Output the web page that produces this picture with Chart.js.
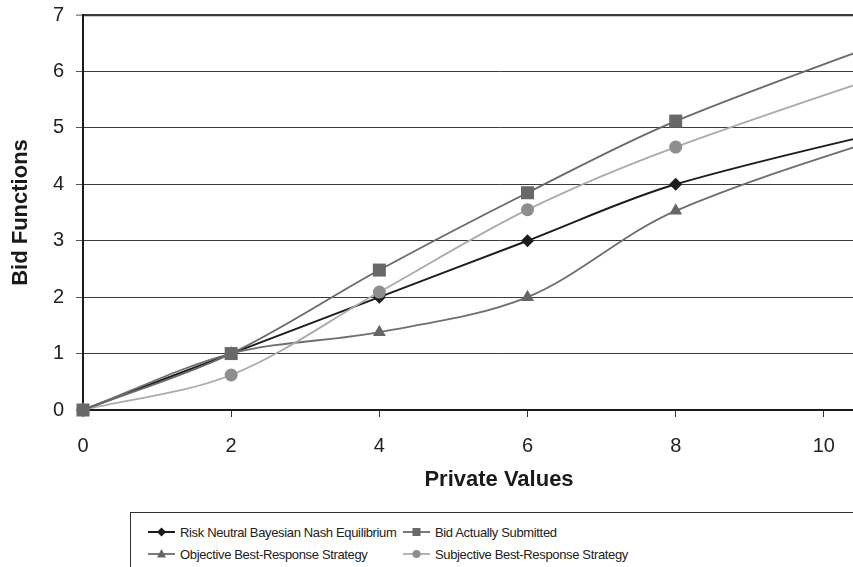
<!DOCTYPE html>
<html><head><meta charset="utf-8">
<script src="https://cdn.jsdelivr.net/npm/chart.js@4.4.0/dist/chart.umd.min.js"></script>
<style>
html,body{margin:0;padding:0;background:#fff;overflow:hidden;}
#wrap{position:relative;width:853px;height:567px;overflow:hidden;background:#fff;}
#c{position:absolute;left:0;top:0;}
#legend{position:absolute;left:130px;top:512px;width:760px;height:80px;border:1px solid #333;background:#fff;font-family:"Liberation Sans",Arial,Helvetica,sans-serif;font-size:13px;letter-spacing:-0.35px;color:#222;}
.item{position:absolute;display:flex;align-items:center;height:18px;white-space:nowrap;}
.item svg{margin-right:5px;display:block;}
</style></head><body>
<div id="wrap"><canvas id="c" width="915" height="567"></canvas><div id="legend"></div></div>
<script>
// ---- data ----
const privateValues = [0, 2, 4, 6, 8, 12];
const riskNeutral   = [0, 1.00, 2.00, 3.00, 4.00, 5.30];
const bidSubmitted  = [0, 1.00, 2.48, 3.85, 5.12, 7.09];
const objectiveBR   = [0, 1.00, 1.38, 2.00, 3.53, 5.34];
const subjectiveBR  = [0, 0.62, 2.09, 3.55, 4.66, 6.46];
const seriesNames = [
  "Risk Neutral Bayesian Nash Equilibrium",
  "Bid Actually Submitted",
  "Objective Best-Response Strategy",
  "Subjective Best-Response Strategy"
];
const xTicks = [0, 2, 4, 6, 8, 10];
const yTicks = [0, 1, 2, 3, 4, 5, 6, 7];
const xTitle = "Private Values";
const yTitle = "Bid Functions";

const FONT = '"Liberation Sans", Arial, Helvetica, sans-serif';
const pts = arr => privateValues.map((x, i) => ({x: x, y: arr[i]}));

const styles = [
  {name: seriesNames[0], data: riskNeutral,  line: '#1c1c1c', mark: '#1c1c1c', shape: 'rectRot',  r: 6.5, w: 2},
  {name: seriesNames[1], data: bidSubmitted, line: '#696969', mark: '#686868', shape: 'rect',     r: 9.2, w: 1.8},
  {name: seriesNames[2], data: objectiveBR,  line: '#6e6e6e', mark: '#666666', shape: 'triangle', r: 7.5, w: 1.8},
  {name: seriesNames[3], data: subjectiveBR, line: '#ababab', mark: '#8e8e8e', shape: 'circle',   r: 6.5, w: 1.8}
];
// draw order: bid on top, then subjective, objective, risk neutral
const drawOrder = {0: 3, 1: 0, 2: 2, 3: 1};

const datasets = styles.map((s, i) => ({
  label: s.name,
  data: pts(s.data),
  borderColor: s.line,
  borderWidth: s.w,
  backgroundColor: s.mark,
  pointStyle: s.shape,
  pointRadius: s.r,
  pointBackgroundColor: s.mark,
  pointBorderColor: s.mark,
  pointBorderWidth: 0,
  tension: 0.33,
  fill: false,
  order: drawOrder[i],
  clip: {left: 12, top: 12, bottom: 12, right: 0}
}));

// The original figure is cropped at the right; the plot area continues past the page edge.
new Chart(document.getElementById('c'), {
  type: 'line',
  data: {datasets: datasets},
  options: {
    responsive: false,
    animation: false,
    layout: {autoPadding: false, padding: {top: 15, right: 0, bottom: 74, left: 0}},
    plugins: {legend: {display: false}, tooltip: {enabled: false}},
    scales: {
      x: {
        type: 'linear', min: 0, max: 11.23,
        afterBuildTicks: sc => { sc.ticks = xTicks.map(v => ({value: v})); },
        afterFit: sc => { sc.height = 83; sc.paddingLeft = 0; sc.paddingRight = 0; },
        grid: {drawOnChartArea: false, drawTicks: true, tickLength: 7, tickColor: '#333', tickWidth: 1},
        border: {display: true, color: '#1a1a1a', width: 2},
        ticks: {padding: 17, color: '#222', font: {family: FONT, size: 20}, maxRotation: 0},
        title: {display: true, text: xTitle, color: '#1a1a1a', font: {family: FONT, size: 22, weight: 'bold'}, padding: {top: 0, bottom: 0}}
      },
      y: {
        min: 0, max: 7,
        afterBuildTicks: sc => { sc.ticks = yTicks.map(v => ({value: v})); },
        afterFit: sc => { sc.width = 83; sc.paddingTop = 0; sc.paddingBottom = 0; },
        grid: {
          color: '#3a3a3a',
          lineWidth: c => (c.tick && c.tick.value === 7) ? 2.2 : 1,
          drawTicks: true, tickLength: 7, tickColor: '#555', tickWidth: 1
        },
        border: {display: true, color: '#1a1a1a', width: 2},
        ticks: {padding: 12, color: '#222', font: {family: FONT, size: 20}},
        title: {display: true, text: yTitle, color: '#1a1a1a', font: {family: FONT, size: 22, weight: 'bold'}, padding: {top: 8, bottom: 0}}
      }
    }
  }
});

// ---- HTML legend (two columns, row-major) ----
function symbol(s) {
  const W = 27, H = 14, cx = 13.5, cy = 7;
  let m = '';
  if (s.shape === 'rectRot') m = `<polygon points="${cx},${cy-4.5} ${cx+4.5},${cy} ${cx},${cy+4.5} ${cx-4.5},${cy}" fill="${s.mark}"/>`;
  else if (s.shape === 'rect') m = `<rect x="${cx-4}" y="${cy-4}" width="8" height="8" fill="${s.mark}"/>`;
  else if (s.shape === 'triangle') m = `<polygon points="${cx},${cy-5} ${cx+4.5},${cy+3.5} ${cx-4.5},${cy+3.5}" fill="${s.mark}"/>`;
  else m = `<circle cx="${cx}" cy="${cy}" r="4" fill="${s.mark}"/>`;
  return `<svg width="${W}" height="${H}" viewBox="0 0 ${W} ${H}"><line x1="0" y1="${cy}" x2="${W}" y2="${cy}" stroke="${s.line}" stroke-width="${s.w}"/>${m}</svg>`;
}
const legendPos = [[17, 10], [272, 10], [17, 32], [272, 32]];
const leg = document.getElementById('legend');
styles.forEach((s, i) => {
  const d = document.createElement('div');
  d.className = 'item';
  d.style.left = legendPos[i][0] + 'px';
  d.style.top = legendPos[i][1] + 'px';
  d.innerHTML = symbol(s) + '<span>' + s.name + '</span>';
  leg.appendChild(d);
});
</script>
</body></html>
